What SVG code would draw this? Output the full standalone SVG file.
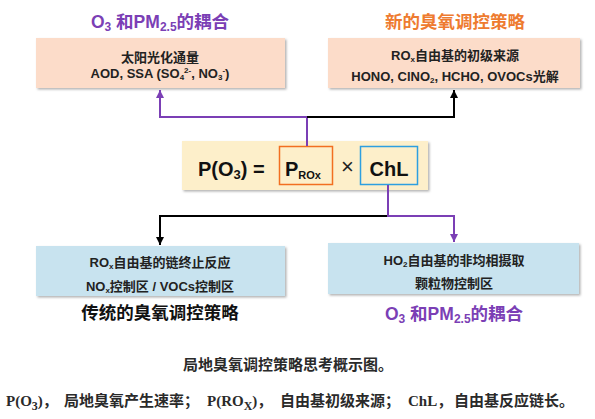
<svg xmlns="http://www.w3.org/2000/svg" width="595" height="419" viewBox="0 0 595 419">
<defs>
<marker id="ab" viewBox="0 0 10 10" refX="10" refY="5" markerWidth="4" markerHeight="4" markerUnits="strokeWidth" orient="auto"><path d="M0,0 L10,5 L0,10 z" fill="#000"/></marker>
<marker id="ap" viewBox="0 0 10 10" refX="10" refY="5" markerWidth="4" markerHeight="4" markerUnits="strokeWidth" orient="auto"><path d="M0,0 L10,5 L0,10 z" fill="#7b3fb5"/></marker>
<filter id="sh" x="-5%" y="-10%" width="110%" height="130%"><feDropShadow dx="1.5" dy="1.5" stdDeviation="1" flood-color="#000" flood-opacity="0.3"/></filter>
</defs>
<style>
.t{font-family:"Liberation Sans","Noto Sans CJK SC",sans-serif;font-weight:bold;text-anchor:middle}
.bx{font-size:13px;fill:#222}
.ttl{font-size:17.5px}
.peach{fill:#fcdcc9}
.blue{fill:#c8e3ef}
.pl{stroke:#7b3fb5;stroke-width:2;fill:none}
.bl{stroke:#000;stroke-width:2;fill:none}
.cap{font-family:"Liberation Serif","Noto Sans CJK SC",serif;font-weight:bold;font-size:15px;fill:#2a2a2a}
</style>
<rect width="595" height="419" fill="#fff"/>

<g id="top-left">
<text class="t ttl" x="160" y="28" fill="#7b3fb5">O<tspan font-size="12" dy="3">3</tspan><tspan dy="-3"> 和PM</tspan><tspan font-size="12" dy="3">2.5</tspan><tspan dy="-3">的耦合</tspan></text>
<rect class="peach" x="36" y="38" width="249" height="50" filter="url(#sh)"/>
<text class="t bx" x="160" y="62">太阳光化通量</text>
<text class="t bx" x="160" y="78">AOD, SSA (SO<tspan font-size="8" dy="2">4</tspan><tspan font-size="8" dy="-7">2-</tspan><tspan dy="5">,  NO</tspan><tspan font-size="8" dy="2">3</tspan><tspan font-size="8" dy="-7">-</tspan><tspan dy="5">)</tspan></text>
</g>

<g id="top-right">
<text class="t ttl" x="455" y="28" fill="#ee7b30">新的臭氧调控策略</text>
<rect class="peach" x="328" y="38" width="252" height="50" filter="url(#sh)"/>
<text class="t bx" x="455" y="60">RO<tspan font-size="8" dy="2">x</tspan><tspan dy="-2">自由基的初级来源</tspan></text>
<text class="t bx" x="455" y="81">HONO, ClNO<tspan font-size="8" dy="2">2</tspan><tspan dy="-2">, HCHO, OVOCs光解</tspan></text>
</g>

<g id="center">
<rect x="182" y="141" width="246" height="49" fill="#fdefca" filter="url(#sh)"/>
<text class="t" x="198" y="176" font-size="20" style="text-anchor:start" fill="#111">P(O<tspan font-size="13" dy="3">3</tspan><tspan dy="-3">) =</tspan></text>
<rect x="279.5" y="146.5" width="53" height="38" fill="none" stroke="#f26f21" stroke-width="1.5"/>
<text class="t" x="285" y="176" font-size="20" style="text-anchor:start" fill="#111">P<tspan font-size="11" dy="3">ROx</tspan></text>
<text x="347.5" y="174" font-size="22" text-anchor="middle" font-family="Liberation Sans, sans-serif" fill="#222">×</text>
<rect x="360.5" y="146.5" width="57" height="38" fill="none" stroke="#2e9fe0" stroke-width="1.5"/>
<text class="t" x="389" y="176" font-size="20" fill="#111">ChL</text>
</g>

<g id="bottom-left">
<rect class="blue" x="36" y="246" width="249" height="50" filter="url(#sh)"/>
<text class="t bx" x="160" y="267">RO<tspan font-size="8" dy="2">x</tspan><tspan dy="-2">自由基的链终止反应</tspan></text>
<text class="t bx" x="160" y="291">NO<tspan font-size="8" dy="2">x</tspan><tspan dy="-2">控制区 / VOCs控制区</tspan></text>
<text class="t ttl" x="160" y="319" fill="#111">传统的臭氧调控策略</text>
</g>

<g id="bottom-right">
<rect class="blue" x="328" y="243" width="251" height="51" filter="url(#sh)"/>
<text class="t bx" x="454" y="265">HO<tspan font-size="8" dy="2">2</tspan><tspan dy="-2">自由基的非均相摄取</tspan></text>
<text class="t bx" x="454" y="288">颗粒物控制区</text>
<text class="t ttl" x="454" y="320" fill="#7b3fb5">O<tspan font-size="12" dy="3">3</tspan><tspan dy="-3"> 和PM</tspan><tspan font-size="12" dy="3">2.5</tspan><tspan dy="-3">的耦合</tspan></text>
</g>

<g id="connectors">
<path class="pl" d="M307,146 V117 H160 V90" marker-end="url(#ap)"/>
<path class="bl" d="M307,117 H454 V90" marker-end="url(#ab)"/>
<path class="bl" d="M388,216 H160 V245" marker-end="url(#ab)"/>
<path class="pl" d="M388,185 V216 H454 V242" marker-end="url(#ap)"/>
</g>

<g id="caption">
<text class="cap" x="183" y="370">局地臭氧调控策略思考概示图。</text>
<text class="cap" y="406"><tspan x="6">P(O</tspan><tspan font-size="12" dy="4">3</tspan><tspan dy="-4">)，</tspan><tspan x="64">局地臭氧产生速率；</tspan><tspan x="207">P(RO</tspan><tspan font-size="12" dy="4">X</tspan><tspan dy="-4">)，</tspan><tspan x="280">自由基初级来源；</tspan><tspan x="408">ChL，</tspan><tspan x="454">自由基反应链长。</tspan></text>
</g>
</svg>
